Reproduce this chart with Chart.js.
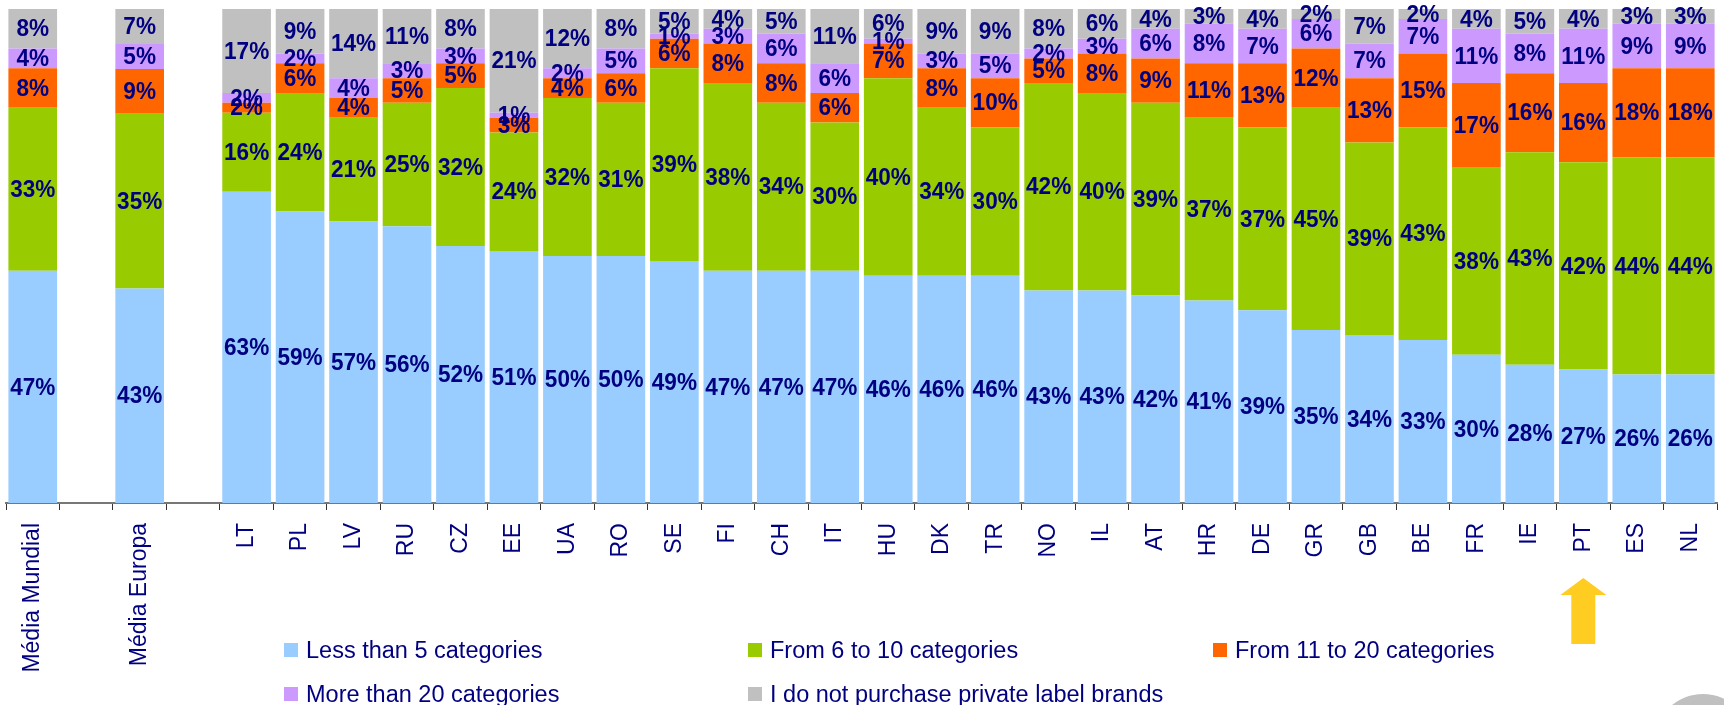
<!DOCTYPE html>
<html>
<head>
<meta charset="utf-8">
<script src="https://cdn.jsdelivr.net/npm/chart.js@4.4.1/dist/chart.umd.min.js"></script>
<style>
  body { margin: 0; background: #fff; font-family: "Liberation Sans", Arial, sans-serif; }
  #wrap { position: relative; width: 1724px; height: 705px; overflow: hidden; }
  #chart { position: absolute; left: 0; top: 0; }
  .legend-item { position: absolute; display: flex; align-items: center; height: 28px;
                 color: #000080; font-size: 23.5px; white-space: nowrap; }
  .legend-item .box { width: 14px; height: 14px; margin-right: 8px; flex: none; }
  #deco { position: absolute; left: 1654px; top: 694px; width: 98px; height: 98px;
          border-radius: 50%; background: #c0c0c0; }
</style>
</head>
<body>
<div id="wrap">
  <canvas id="chart" width="1724" height="705"></canvas>
  <div id="legend"></div>
  <div id="deco"></div>
</div>
<script>
// Categories (empty strings are the spacer slots)
const categories = ['Média Mundial', '', 'Média Europa', '', 'LT', 'PL', 'LV', 'RU', 'CZ', 'EE', 'UA', 'RO',
    'SE', 'FI', 'CH', 'IT', 'HU', 'DK', 'TR', 'NO', 'IL', 'AT', 'HR', 'DE', 'GR', 'GB', 'BE', 'FR', 'IE', 'PT', 'ES', 'NL'];

// Series values (%)
const lessThan5 = [47, null, 43, null, 63, 59, 57, 56, 52, 51, 50, 50, 49, 47, 47, 47, 46, 46, 46, 43, 43, 42, 41, 39, 35, 34, 33, 30, 28, 27, 26, 26];
const from6to10 = [33, null, 35, null, 16, 24, 21, 25, 32, 24, 32, 31, 39, 38, 34, 30, 40, 34, 30, 42, 40, 39, 37, 37, 45, 39, 43, 38, 43, 42, 44, 44];
const from11to20 = [8, null, 9, null, 2, 6, 4, 5, 5, 3, 4, 6, 6, 8, 8, 6, 7, 8, 10, 5, 8, 9, 11, 13, 12, 13, 15, 17, 16, 16, 18, 18];
const moreThan20 = [4, null, 5, null, 2, 2, 4, 3, 3, 1, 2, 5, 1, 3, 6, 6, 1, 3, 5, 2, 3, 6, 8, 7, 6, 7, 7, 11, 8, 11, 9, 9];
const noPrivateLabel = [8, null, 7, null, 17, 9, 14, 11, 8, 21, 12, 8, 5, 4, 5, 11, 6, 9, 9, 8, 6, 4, 3, 4, 2, 7, 2, 4, 5, 4, 3, 3];

const seriesNames = ['Less than 5 categories', 'From 6 to 10 categories', 'From 11 to 20 categories',
    'More than 20 categories', 'I do not purchase private label brands'];
const seriesColors = ['#99ccff', '#99cc00', '#ff6600', '#cc99ff', '#c0c0c0'];
const seriesValues = [lessThan5, from6to10, from11to20, moreThan20, noPrivateLabel];

// 100% stacked: scale each column to its own total
const totals = categories.map((c, i) => seriesValues.reduce((s, arr) => s + (arr[i] || 0), 0));
const datasets = seriesValues.map((arr, k) => ({
    label: seriesNames[k],
    raw: arr,
    data: arr.map((v, i) => v === null ? null : v / totals[i] * 100),
    backgroundColor: seriesColors[k],
    borderWidth: 0,
    barPercentage: 0.91,
    categoryPercentage: 1.0
}));

// Draw value labels centered in each segment (slightly narrow bold, like the original)
const valueLabels = {
    id: 'valueLabels',
    afterDatasetsDraw(chart) {
        const ctx = chart.ctx;
        ctx.save();
        ctx.font = 'bold 24px "Liberation Sans", Arial, sans-serif';
        ctx.fillStyle = '#000080';
        ctx.textAlign = 'center';
        ctx.textBaseline = 'middle';
        chart.data.datasets.forEach((ds, k) => {
            chart.getDatasetMeta(k).data.forEach((bar, i) => {
                if (ds.raw[i] === null) return;
                ctx.save();
                ctx.translate(bar.x, (bar.y + bar.base) / 2 + 1);
                ctx.scale(0.94, 1);
                ctx.fillText(ds.raw[i] + '%', 0, 0);
                ctx.restore();
            });
        });
        ctx.restore();
    }
};

// Yellow arrow pointing at PT
const arrow = {
    id: 'arrow',
    afterDraw(chart) {
        const ctx = chart.ctx;
        const x = chart.scales.x.getPixelForValue(categories.indexOf('PT'));
        ctx.save();
        ctx.fillStyle = '#ffcc22';
        ctx.beginPath();
        ctx.moveTo(x, 578);
        ctx.lineTo(x + 23, 595);
        ctx.lineTo(x + 12, 595);
        ctx.lineTo(x + 12, 644);
        ctx.lineTo(x - 12, 644);
        ctx.lineTo(x - 12, 595);
        ctx.lineTo(x - 23, 595);
        ctx.closePath();
        ctx.fill();
        ctx.restore();
    }
};

new Chart(document.getElementById('chart').getContext('2d'), {
    type: 'bar',
    data: { labels: categories, datasets: datasets },
    options: {
        responsive: false,
        animation: false,
        layout: { padding: { left: 6, right: 7, top: 9, bottom: 0 } },
        plugins: {
            legend: { display: false },
            tooltip: { enabled: false }
        },
        scales: {
            x: {
                stacked: true,
                afterFit: (scale) => {
                    scale.height = 202;
                    scale.paddingLeft = 0;
                    scale.paddingRight = 0;
                },
                border: { color: '#777777', width: 2 },
                grid: { drawOnChartArea: false, tickLength: 7, color: '#333333', offset: true },
                ticks: {
                    autoSkip: false,
                    maxRotation: 90,
                    minRotation: 90,
                    padding: 13,
                    color: '#000080',
                    font: { family: '"Liberation Sans", Arial, sans-serif', size: 23 }
                }
            },
            y: {
                stacked: true,
                display: false,
                min: 0,
                max: 100
            }
        }
    },
    plugins: [valueLabels, arrow]
});

// Legend laid out in three columns like the original
const legendCols = [284, 748, 1213];
const legendRows = [650, 694];
const legend = document.getElementById('legend');
seriesNames.forEach((name, k) => {
    const item = document.createElement('div');
    item.className = 'legend-item';
    item.style.left = legendCols[k % 3] + 'px';
    item.style.top = (legendRows[Math.floor(k / 3)] - 14) + 'px';
    item.innerHTML = '<span class="box" style="background:' + seriesColors[k] + '"></span>' + name;
    legend.appendChild(item);
});
</script>
</body>
</html>
